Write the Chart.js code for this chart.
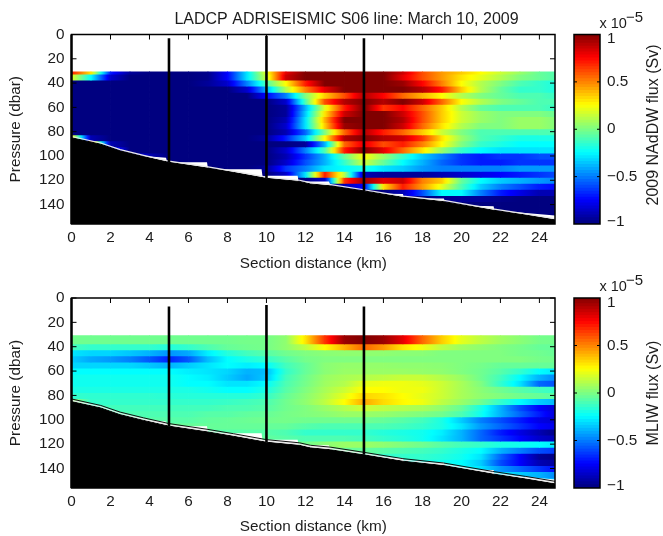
<!DOCTYPE html>
<html><head><meta charset="utf-8">
<style>
html,body{margin:0;padding:0;background:#fff;overflow:hidden}
body{width:663px;height:536px;position:relative}
canvas{position:absolute;display:block}
</style>
<script src="https://cdn.jsdelivr.net/npm/chart.js@4"></script>
</head><body>
<canvas id="c1" width="560" height="280" style="left:0;top:0"></canvas>
<canvas id="b1" width="103" height="264" style="left:560px;top:0"></canvas>
<canvas id="c2" width="560" height="272" style="left:0;top:264px"></canvas>
<canvas id="b2" width="103" height="272" style="left:560px;top:264px"></canvas>
<script>
const titleText = 'LADCP ADRISEISMIC S06 line: March 10, 2009';
const xLabel = 'Section distance (km)';
const yLabel = 'Pressure (dbar)';
const cbarLabel1 = '2009 NAdDW flux (Sv)';
const cbarLabel2 = 'MLIW flux (Sv)';
const cbarTickPos = [-0.98, -0.5, 0, 0.5, 0.95];
const cbarTickText = ['\u22121', '\u22120.5', '0', '0.5', '1'];
const cbarInnerTicks = [-0.5, 0, 0.5];

// section distance nodes (km)
const km = [0,1,2,3,4,5,6,7,8,9,10,11,12,13,14,15,16,17,18,19,20,21,22,23,24,25];
// pressure band edges (dbar)
const rowEdges = [30.5,32,37,42,47,52,57,62,67,72,77,82,87,92,97,102,107,112,117,122,127,132,137,142,147,152,157];

// flux per band per km node, in 1e-7 Sv
const nadw = [
[70,30,-70,-95,-100,-100,-100,-98,-75,-30,20,80,100,100,100,100,100,85,60,45,35,25,15,5,-5,-10],
[20,-25,-85,-100,-100,-100,-100,-98,-75,-30,15,85,100,100,100,100,100,80,60,45,30,20,10,0,-5,-10],
[-100,-100,-100,-100,-100,-100,-100,-95,-85,-50,-10,25,70,100,100,100,100,95,75,50,25,10,0,-10,-15,-20],
[-100,-100,-100,-100,-100,-100,-100,-100,-100,-85,-40,10,50,80,100,100,100,100,90,70,35,10,-5,-15,-15,-20],
[-100,-100,-100,-100,-100,-100,-100,-100,-100,-100,-75,-50,0,35,60,90,75,55,40,25,10,0,-5,-10,-10,-15],
[-100,-100,-100,-100,-100,-100,-100,-100,-100,-100,-100,-85,-10,60,90,100,90,100,85,55,25,10,0,-5,-10,-10],
[-100,-100,-100,-100,-100,-100,-100,-100,-100,-100,-100,-95,-40,20,70,100,65,75,55,35,10,-5,-10,-10,-10,-15],
[-100,-100,-100,-100,-100,-100,-100,-100,-100,-100,-100,-95,-35,30,85,100,100,85,60,35,15,5,0,0,0,-5],
[-100,-100,-100,-100,-100,-100,-100,-100,-100,-100,-100,-90,-30,40,100,100,100,90,60,35,15,5,0,5,5,0],
[-100,-100,-100,-100,-100,-100,-100,-100,-100,-100,-100,-85,-30,35,95,100,100,85,55,30,10,0,0,5,5,0],
[-100,-100,-100,-100,-100,-100,-100,-100,-100,-100,-100,-90,-55,0,55,90,70,55,35,15,0,-10,-10,-10,-10,-10],
[30,-90,-100,-100,-100,-100,-100,-100,-100,-100,-95,-70,-35,25,90,100,90,85,65,30,5,-10,-15,-20,-20,-20],
[-100,50,-90,-100,-100,-100,-100,-100,-100,-100,-100,-100,-95,-40,55,80,60,70,50,25,0,-15,-20,-25,-25,-25],
[-100,-100,-60,-100,-100,-100,-100,-100,-100,-100,-100,-85,-50,-10,70,100,80,55,30,5,-15,-25,-30,-30,-30,-30],
[-100,-100,-100,-75,-90,-100,-100,-100,-100,-100,-100,-90,-65,-40,-5,25,5,-15,-35,-50,-65,-70,-65,-65,-60,-60],
[-100,-100,-100,-100,-100,-100,-100,-100,-100,-100,-100,-85,-60,-40,-15,15,-5,-25,-40,-55,-65,-70,-70,-65,-65,-65],
[-100,-100,-100,-100,-100,-100,-100,-100,-100,-100,-95,-65,-50,-30,-25,-20,-30,-35,-45,-50,-50,-50,-50,-45,-45,-45],
[-100,-100,-100,-100,-100,-100,-100,-100,-100,-100,-100,-85,-30,70,10,-90,-95,-95,-95,-90,-85,-80,-75,-70,-65,-60],
[-100,-100,-100,-100,-100,-100,-100,-100,-100,-100,-100,-100,-100,-85,65,95,80,85,50,35,-5,-25,-35,-40,-45,-50],
[-100,-100,-100,-100,-100,-100,-100,-100,-100,-100,-100,-100,-100,-100,-90,-75,30,70,45,20,-10,-35,-50,-60,-70,-75],
[-100,-100,-100,-100,-100,-100,-100,-100,-100,-100,-100,-100,-100,-100,-100,-100,-100,-90,-60,-25,-25,-50,-70,-80,-90,-90],
[-100,-100,-100,-100,-100,-100,-100,-100,-100,-100,-100,-100,-100,-100,-100,-100,-100,-100,-100,-98,-95,-95,-98,-100,-100,-100],
[-100,-100,-100,-100,-100,-100,-100,-100,-100,-100,-100,-100,-100,-100,-100,-100,-100,-100,-100,-100,-100,-100,-100,-100,-100,-100],
[-100,-100,-100,-100,-100,-100,-100,-100,-100,-100,-100,-100,-100,-100,-100,-100,-100,-100,-100,-100,-100,-100,-100,-100,-100,-100],
[-100,-100,-100,-100,-100,-100,-100,-100,-100,-100,-100,-100,-100,-100,-100,-100,-100,-100,-100,-100,-100,-100,-100,-100,-100,-100],
[-100,-100,-100,-100,-100,-100,-100,-100,-100,-100,-100,-100,-100,-100,-100,-100,-100,-100,-100,-100,-100,-100,-100,-100,-100,-100]
];
const mliw = [
[-3,-3,-3,-3,-3,-3,-3,-3,-3,-2,-2,3,30,65,95,100,95,80,55,35,20,12,6,2,-2,-3],
[-3,-3,-3,-3,-3,-3,-3,-3,-3,-2,-2,3,30,65,95,100,95,80,55,35,20,12,6,2,-2,-3],
[-12,-15,-15,-15,-15,-18,-15,-10,-5,-3,-2,3,12,25,40,55,45,30,22,12,6,3,0,-2,-5,-5],
[-30,-33,-33,-36,-40,-46,-42,-28,-18,-12,-8,-3,0,2,3,3,3,2,2,0,0,0,0,-2,-3,-5],
[-35,-42,-45,-50,-58,-68,-58,-38,-25,-20,-15,-8,-2,0,0,0,0,0,0,0,0,0,0,0,-2,-3],
[-33,-33,-33,-33,-36,-40,-35,-30,-25,-28,-25,-12,-5,2,4,4,4,3,3,2,0,-2,-5,-5,-5,-5],
[-25,-25,-25,-25,-25,-25,-28,-30,-33,-40,-38,-15,-5,2,5,5,5,5,4,3,0,-3,-8,-15,-25,-30],
[-22,-22,-22,-22,-22,-22,-25,-28,-35,-42,-36,-12,-3,5,8,10,12,14,14,10,5,-3,-12,-25,-40,-50],
[-22,-22,-22,-22,-22,-22,-25,-25,-30,-30,-25,-10,-2,6,10,20,22,22,20,15,8,0,-15,-30,-55,-60],
[-20,-20,-20,-20,-20,-20,-20,-22,-25,-25,-20,-8,0,8,15,25,25,22,22,15,8,2,-3,-8,-12,-15],
[-15,-16,-16,-16,-16,-17,-18,-18,-18,-18,-15,-5,2,10,20,33,30,25,20,15,8,3,0,-3,-5,-8],
[5,-15,-15,-15,-15,-15,-15,-15,-14,-12,-10,-3,3,12,25,42,32,26,22,12,5,-3,-15,-25,-35,-40],
[-12,-12,-12,-12,-12,-12,-12,-12,-10,-10,-8,-3,0,5,10,15,12,10,8,3,-5,-20,-40,-60,-75,-85],
[-10,-10,-10,-10,-10,-10,-10,-8,-8,-6,-5,-2,0,2,5,5,4,2,0,-3,-10,-22,-40,-55,-70,-85],
[-8,-8,-8,-8,-8,-8,-8,-6,-5,-4,-3,-2,-3,-3,-3,-3,-5,-8,-12,-20,-35,-50,-60,-70,-80,-85],
[-5,-5,-5,-5,-5,-5,-5,-5,-5,-5,-5,-5,-8,-10,-10,-10,-10,-12,-15,-20,-30,-45,-55,-65,-75,-80],
[-8,-8,-8,-8,-8,-8,-8,-8,-8,-8,-8,-10,-15,-15,-15,-15,-18,-20,-22,-28,-40,-55,-70,-80,-90,-100],
[-5,-5,-5,-5,-5,-5,-5,-5,-5,-6,-6,-8,-10,-10,-10,-12,-15,-18,-22,-30,-40,-55,-65,-75,-85,-90],
[0,0,0,0,0,0,0,0,0,0,0,0,-3,2,5,5,3,0,-3,-8,-12,-15,-20,-22,-25,-30],
[-2,-2,-2,-2,-2,-2,-2,-2,-2,-2,-2,-2,-2,-5,-5,-5,-8,-10,-12,-15,-20,-25,-40,-50,-60,-65],
[-8,-8,-8,-8,-8,-8,-8,-8,-8,-8,-8,-8,-8,-8,-10,-12,-15,-15,-15,-18,-22,-30,-55,-75,-95,-100],
[-15,-15,-15,-15,-15,-15,-15,-15,-15,-15,-15,-15,-15,-15,-18,-18,-20,-20,-20,-22,-25,-35,-60,-75,-90,-95],
[-20,-20,-20,-20,-20,-20,-20,-20,-20,-20,-20,-20,-20,-20,-20,-20,-20,-20,-20,-22,-25,-30,-45,-55,-65,-75],
[-20,-20,-20,-20,-20,-20,-20,-20,-20,-20,-20,-20,-20,-20,-20,-20,-20,-20,-20,-20,-25,-28,-30,-35,-40,-50],
[-20,-20,-20,-20,-20,-20,-20,-20,-20,-20,-20,-20,-20,-20,-20,-20,-20,-20,-20,-20,-20,-20,-25,-30,-35,-40],
[-25,-25,-25,-25,-25,-25,-25,-25,-25,-25,-25,-25,-25,-25,-25,-25,-25,-25,-25,-25,-25,-25,-25,-25,-25,-25]
];

// sea floor and deepest sampled level
const bathyKm = [0,1.5,2.5,3.7,5,7,8.3,10,11.7,12.25,13.3,15,17,19.1,21.6,23.3,24.8];
const bathyP  = [85,90.3,95.8,100.5,105.2,110,113.5,118.4,121,123,124.6,128.8,134,137.6,144.5,148.6,152.6];
const floorKm = [0,1.5,2.5,3.7,4.85,4.9,5.1,6.95,7,7.6,9.75,9.8,10,11.6,11.65,13.2,13.3,15,16.2,17,17.05,17.6,19.1,19.15,20.6,21.65,21.7,23,24.8];
const floorP  = [85,90.3,95.8,100,101.5,105,105.2,105.2,110.2,111,111,117,116.3,116.3,121,121,124.5,128.7,131,131.3,134,135,135,137.8,141,141.3,145,146.5,149];

// vertical station lines
const stationKm = [5,10,15];
const stationTop1 = [3,1,3];
const stationTop2 = [7,5.7,7];
const stationBottom = [105.2,118.4,128.8];

const cbarEdges = [];
for (let i = 0; i <= 64; i++) cbarEdges.push(-1 + i / 32);

const FONT = '"Liberation Sans", Arial, sans-serif';
Chart.defaults.font.family = FONT;
Chart.defaults.font.size = 15.3;
Chart.defaults.color = '#1c1c1c';

function clamp01(v){return Math.max(0, Math.min(1, v));}
function jet(v){
  const t = clamp01((v + 1) / 2);
  const r = clamp01(Math.min(4*t - 1.5, -4*t + 4.5));
  const g = clamp01(Math.min(4*t - 0.5, -4*t + 3.5));
  const b = clamp01(Math.min(4*t + 0.5, -4*t + 2.5));
  return `rgb(${Math.round(r*255)},${Math.round(g*255)},${Math.round(b*255)})`;
}
function cellGradient(ctx, row){
  const c = ctx.dataIndex;
  const sx = ctx.chart.scales.x;
  if (c === undefined || !sx) return 'rgba(0,0,0,0)';
  const x0 = sx.getPixelForValue(km[c]), x1 = sx.getPixelForValue(km[c+1]);
  if (!isFinite(x0) || !isFinite(x1)) return 'rgba(0,0,0,0)';
  const g = ctx.chart.ctx.createLinearGradient(x0, 0, x1, 0);
  for (let s = 0; s <= 6; s++){
    const f = s / 6;
    g.addColorStop(f, jet((row[c]*(1-f) + row[c+1]*f) / 100));
  }
  return g;
}
function zip(xs, ys){return xs.map((x,i)=>({x, y:ys[i]}));}

const frame = {
  id:'frame',
  afterDatasetsDraw(chart, args, opts){
    const {ctx, chartArea:a, scales} = chart;
    ctx.save();
    ctx.strokeStyle = '#000';
    ctx.lineWidth = 1.5;
    ctx.strokeRect(a.left, a.top, a.right-a.left, a.bottom-a.top);
    ctx.lineWidth = 1;
    const len = opts.len;
    ctx.beginPath();
    if (opts.main){
      ctx.lineWidth = 2.4;
      ctx.moveTo(a.left, a.top); ctx.lineTo(a.left, a.bottom);
      ctx.stroke();
      ctx.lineWidth = 1;
      ctx.beginPath();
      scales.x.ticks.forEach((t,i)=>{
        const p = scales.x.getPixelForTick(i);
        ctx.moveTo(p, a.top); ctx.lineTo(p, a.top+len);
      });
      scales.y.ticks.forEach((t,i)=>{
        const p = scales.y.getPixelForTick(i);
        ctx.moveTo(a.left, p); ctx.lineTo(a.left+len, p);
        ctx.moveTo(a.right, p); ctx.lineTo(a.right-len, p);
      });
    } else {
      cbarInnerTicks.forEach(v=>{
        const p = scales.y.getPixelForValue(v);
        ctx.moveTo(a.left, p); ctx.lineTo(a.left+len, p);
        ctx.moveTo(a.right, p); ctx.lineTo(a.right-len, p);
      });
    }
    ctx.stroke();
    ctx.restore();
  }
};
const labels = {
  id:'labels',
  afterDraw(chart, args, opts){
    const {ctx} = chart;
    ctx.save();
    ctx.fillStyle = '#1c1c1c';
    if (opts.title){
      ctx.font = '16px ' + FONT;
      ctx.textAlign = 'center'; ctx.textBaseline = 'alphabetic';
      ctx.fillText(opts.title, 346.5, 24);
    }
    if (opts.side){
      ctx.font = '14.5px ' + FONT;
      ctx.textAlign = 'left'; ctx.textBaseline = 'alphabetic';
      ctx.fillText('x 10', 39.5, opts.expY);
      ctx.font = '15px ' + FONT;
      ctx.fillText('\u22125', 66, opts.expY - 6);
      ctx.translate(opts.sideX, opts.sideY);
      ctx.rotate(-Math.PI/2);
      ctx.textAlign = 'center'; ctx.textBaseline = 'middle';
      ctx.font = '16px ' + FONT;
      ctx.fillText(opts.side, 0, 0);
    }
    ctx.restore();
  }
};

function mainChart(id, grid, stationTop, topPad, bottomPad, xH, xTitlePad, ridge, title){
  const ds = [];
  stationKm.forEach((k,i)=>ds.push({type:'line', order:0, data:[{x:k,y:stationTop[i]},{x:k,y:stationBottom[i]}],
    borderColor:'#000', borderWidth:2.6, pointRadius:0, fill:false, borderCapStyle:'butt'}));
  if (ridge){
    ds.push({type:'line', order:1, data:zip(bathyKm, bathyP.map(p=>p-2.1)), borderColor:'#111', borderWidth:1, pointRadius:0, fill:false});
  }
  ds.push({type:'line', order:2, data:zip(bathyKm, bathyP.map(p=>p-1)), borderColor:'#e8e8e8', borderWidth:1.2, pointRadius:0, fill:false});
  ds.push({type:'line', order:3, data:zip(bathyKm, bathyP), borderColor:'#000', borderWidth:1, pointRadius:0, backgroundColor:'#000', fill:'start'});
  ds.push({type:'line', order:4, data:zip(floorKm, floorP), borderColor:'#fff', borderWidth:0, pointRadius:0, backgroundColor:'#fff', fill:'start'});
  grid.forEach((row,r)=>{
    ds.push({type:'bar', order:10, grouped:false, categoryPercentage:1, barPercentage:1.04, borderWidth:0,
      data: km.slice(0,-1).map((k,c)=>({x:(k+km[c+1])/2, y:[rowEdges[r], rowEdges[r+1]+0.9]})),
      backgroundColor: ctx=>cellGradient(ctx,row)});
  });
  return new Chart(document.getElementById(id),{
    type:'bar',
    data:{datasets:ds},
    options:{
      responsive:false, animation:false, devicePixelRatio:1, events:[],
      layout:{padding:{left:0,right:5,top:topPad,bottom:bottomPad}},
      plugins:{legend:{display:false},tooltip:{enabled:false},title:{display:false},
        frame:{main:true,len:5}, labels:{title:title}},
      scales:{
        x:{type:'linear',min:0,max:24.8,offset:false,
          grid:{display:false,drawTicks:false},border:{display:false},
          ticks:{stepSize:2,includeBounds:false,maxRotation:0,padding:5,autoSkip:false,callback:v=>String(v)},
          title:{display:true,text:xLabel,padding:{top:0,bottom:xTitlePad}},
          afterFit(s){s.height=xH;s.paddingLeft=0;s.paddingRight=0;}},
        y:{type:'linear',reverse:true,min:0,max:156,
          grid:{display:false,drawTicks:false},border:{display:false},
          ticks:{stepSize:20,includeBounds:false,padding:7,autoSkip:false,callback:v=>String(v)},
          title:{display:true,text:yLabel,padding:{top:7,bottom:0}},
          afterFit(s){s.width=71.5;s.paddingTop=0;s.paddingBottom=0;}}
      }
    },
    plugins:[frame,labels]
  });
}
function colorbar(id, side, sideY, expY, topPad, bottomPad){
  const ds = [];
  for (let i=0;i<64;i++){
    ds.push({type:'bar',grouped:false,barPercentage:1,categoryPercentage:1,borderWidth:0,
      data:[[cbarEdges[i],cbarEdges[i+1]+0.004]],
      backgroundColor:jet((cbarEdges[i]+cbarEdges[i+1])/2)});
  }
  return new Chart(document.getElementById(id),{
    type:'bar',
    data:{labels:['flux'],datasets:ds},
    options:{
      responsive:false, animation:false, devicePixelRatio:1, events:[],
      layout:{padding:{left:14,right:3,top:topPad,bottom:bottomPad}},
      plugins:{legend:{display:false},tooltip:{enabled:false},
        frame:{main:false,len:3}, labels:{side:side,sideX:94,sideY:sideY,expY:expY}},
      scales:{
        x:{display:false},
        y:{type:'linear',position:'right',min:-1,max:1,
          grid:{display:false,drawTicks:false},border:{display:false},
          afterBuildTicks(s){s.ticks=cbarTickPos.map(v=>({value:v}));},
          ticks:{padding:7,crossAlign:'near',autoSkip:false,includeBounds:false,
            callback:(v)=>cbarTickText[cbarTickPos.indexOf(v)]},
          afterFit(s){s.width=60;s.paddingTop=0;s.paddingBottom=0;}}
      }
    },
    plugins:[frame,labels]
  });
}
mainChart('c1', nadw, stationTop1, 34.5, 6, 50, 1, false, titleText);
colorbar('b1', cbarLabel1, 125, 28, 34.5, 40);
mainChart('c2', mliw, stationTop2, 34, 0, 48, 0, true, null);
colorbar('b2', cbarLabel2, 129, 27, 34, 48);
</script>
</body></html>
